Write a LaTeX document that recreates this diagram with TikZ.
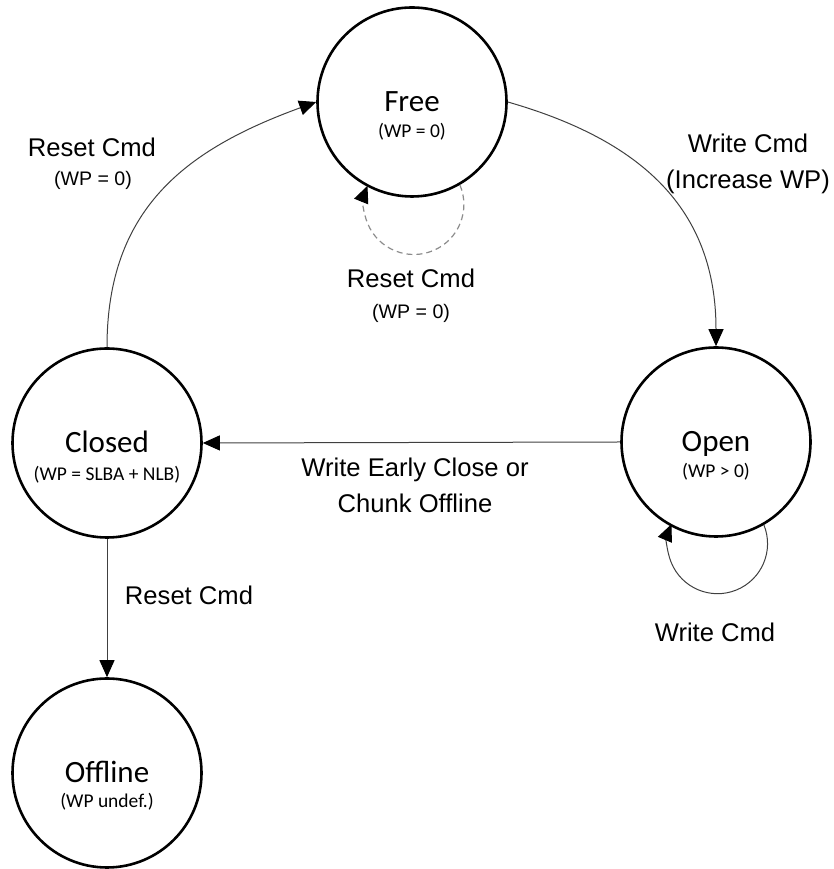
\documentclass[tikz,border=0pt]{standalone}
\usepackage{fontspec}
\setmainfont{Liberation Sans}
\newfontfamily\stfont{Carlito}
\usetikzlibrary{arrows.meta,calc}
\tikzset{
  >={Triangle[length=17pt,width=15pt,color=black]},
  st/.style={circle,draw,line width=2.6pt,minimum size=189pt,inner sep=0pt,font=\stfont\fontsize{31}{31}\selectfont,text height=20pt,text depth=0pt},
  wp/.style={inner sep=0pt,font=\stfont\fontsize{19.5}{20}\selectfont},
  lb/.style={inner sep=0pt,align=center,font=\fontsize{25.6}{36}\selectfont},
  lbs/.style={inner sep=0pt,font=\fontsize{19.6}{22}\selectfont},
  tr/.style={->,draw=black!75,line width=1pt},
  dsh/.style={->,draw=black!45,line width=1.2pt,dash pattern=on 6pt off 4pt},
}
\begin{document}
\begin{tikzpicture}[x=1pt,y=1pt]
\useasboundingbox (0,0) rectangle (833,869);
% states
\node[st] (free) at (412,767){Free};       \node[wp] (freewp) at ($(free)+(0,-30)$){(WP = 0)};
\node[st] (closed) at (107,426){Closed};   \node[wp] (closedwp) at ($(closed)+(0,-32)$){(WP = SLBA + NLB)};
\node[st] (open) at (716,427){Open};       \node[wp] (openwp) at ($(open)+(0,-30)$){(WP > 0)};
\node[st] (offline) at (107,96){Offline};  \node[wp] (offlinewp) at ($(offline)+(0,-29)$){(WP undef.)};
% transitions
\draw[tr] (closed.north) to[out=90,in=200,looseness=1.1] (free.west);
\draw[tr] (free.east) to[out=-16,in=90,looseness=1.1] (open.north);
\draw[tr] (open.west)--(closed.east);
\draw[tr] (closed.south)--(offline.north);
\draw[dsh] (free.-60) arc[start angle=23,end angle=-202,radius=50pt];
\draw[tr] (open.-60) arc[start angle=22,end angle=-203,radius=50pt];
% labels
\node[lb] (rstcmd) at (92,722){Reset Cmd};        \node[lbs] (rstwp) at (93,689){(WP = 0)};
\node[lb] (looprst) at (411,591){Reset Cmd};      \node[lbs] (loopwp) at (411,556){(WP = 0)};
\node[lb] (wrcmd) at (748,705){Write Cmd\\(Increase WP)};
\node[lb] (early) at (415,384){Write Early Close or\\Chunk Offline};
\node[lb] (offrst) at (189,274){Reset Cmd};
\node[lb] (loopwr) at (715,237){Write Cmd};
\end{tikzpicture}
\end{document}
